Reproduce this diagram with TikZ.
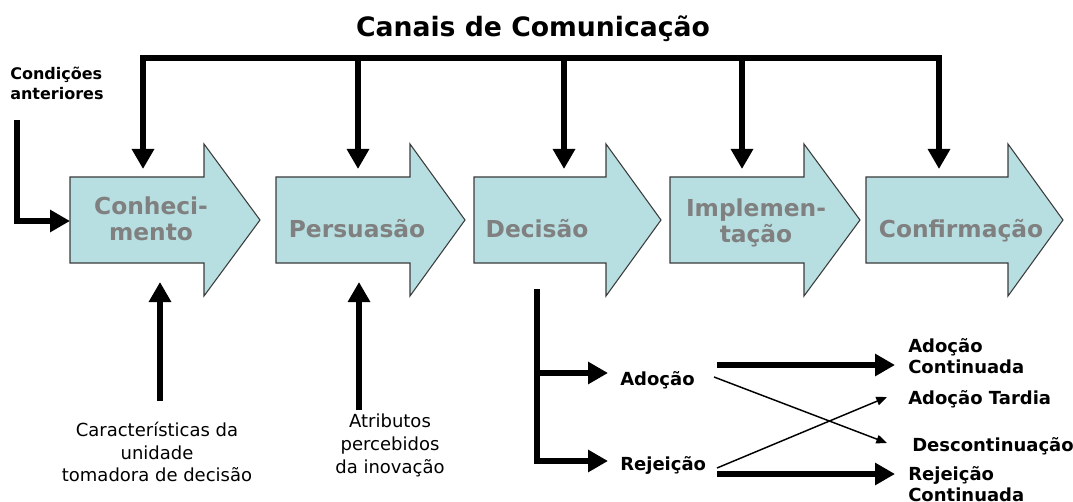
\documentclass[tikz,border=0pt]{standalone}
\usepackage{fontspec}
\setmainfont{DejaVu Sans}
\usetikzlibrary{arrows.meta}
\definecolor{blockfill}{RGB}{183,222,224}
\definecolor{blockline}{RGB}{60,60,60}
\definecolor{blocktext}{RGB}{128,128,128}
\newcommand\myfs[2]{\fontsize{#1}{#2}\selectfont}
\begin{document}
\begin{tikzpicture}[x=0.75pt,y=-0.75pt,
  >={Triangle[length=15pt,width=16pt]},
  blockshape/.style={fill=blockfill,draw=blockline,line width=0.8pt,line join=miter},
  blocklabel/.style={inner sep=0pt,align=center,text=blocktext,font=\myfs{17.5}{19.5}\bfseries},
  bigline/.style={line width=5pt,line join=miter},
  thinarrow/.style={line width=1.1pt,-{Triangle[length=8pt,width=6.5pt]}},
  lbl/.style={inner sep=0pt,align=left,font=\myfs{13.5}{15.75}\bfseries},
  condlbl/.style={inner sep=0pt,align=left,font=\myfs{12}{15}\bfseries},
  sidelbl/.style={inner sep=0pt,align=center,font=\myfs{13.5}{17}},
]
\useasboundingbox[fill=white] (0,0) rectangle (1073,502);

% title
\node[inner sep=0pt,anchor=base,font=\myfs{20}{24}\bfseries] (title) at (533,37) {Canais de Comunicação};

% block arrows
\foreach \l/\h/\t/\n in {70/204/260/a1, 276/410/465/a2, 474/606/661/a3, 670/804/860/a4, 866/1008/1063/a5}{
  \draw[blockshape] (\l,177) -- (\h,177) -- (\h,144) -- (\t,220) -- (\h,296) -- (\h,263) -- (\l,263) -- cycle;
}
\node[blocklabel] (conh) at (151,219) {Conheci-\\mento};
\node[blocklabel,anchor=base] (pers) at (357,238) {Persuasão};
\node[blocklabel,anchor=base] (deci) at (537,238) {Decisão};
\node[blocklabel] (impl) at (756,223) {Implemen-\\tação};
\node[blocklabel,anchor=base] (conf) at (961,238) {Confirmação};

% communication channels
\coordinate (bar) at (0,58);
\coordinate (d1) at (143,169);
\coordinate (d2) at (358,169);
\coordinate (d3) at (564,169);
\coordinate (d4) at (742,169);
\coordinate (d5) at (939,169);
\draw[bigline,<->] (d1) -- (d1 |- bar) -- (d5 |- bar) -- (d5);
\foreach \d in {d2,d3,d4}{
  \draw[bigline,->] (\d |- bar) -- (\d);
}

% previous conditions
\node[condlbl,anchor=west] (cond) at (10,83) {Condições\\anteriores};
\coordinate (c0) at (17,120);
\coordinate (a1w) at (70,221);
\draw[bigline,->] (c0) |- (a1w);

% bottom inputs
\node[sidelbl,font=\myfs{13.5}{16.9}] (carac) at (157,452) {Características da\\unidade\\tomadora de decisão};
\node[sidelbl,font=\myfs{13.5}{17.25}] (atrib) at (390,445) {Atributos\\percebidos\\da inovação};
\coordinate (u1s) at (160,401);
\coordinate (u1e) at (160,282);
\coordinate (u2s) at (359,410);
\coordinate (u2e) at (359,282);
\draw[bigline,->] (u1s) -- (u1e);
\draw[bigline,->] (u2s) -- (u2e);

% decision branches
\node[lbl,anchor=base west] (adoc) at (620,385) {Adoção};
\node[lbl,anchor=base west] (rejc) at (620,470) {Rejeição};
\coordinate (b0) at (537,289);
\coordinate (br1) at (608,373);
\coordinate (br2) at (608,461);
\draw[bigline,->] (b0) |- (br2);
\draw[bigline,->] (b0 |- br1) -- (br1);

% outcomes
\node[lbl,anchor=west] (adcont) at (908,356) {Adoção\\Continuada};
\node[lbl,anchor=base west] (adtard) at (908,404) {Adoção Tardia};
\node[lbl,anchor=base west] (desc) at (912,451) {Descontinuação};
\node[lbl,anchor=west] (rejcont) at (908,484) {Rejeição\\Continuada};

\coordinate (t1s) at (717,365);
\coordinate (t1e) at (895,365);
\coordinate (t2s) at (717,474);
\coordinate (t2e) at (895,474);
\draw[bigline,->] (t1s) -- (t1e);
\draw[bigline,->] (t2s) -- (t2e);

\coordinate (x1s) at (714,377);
\coordinate (x1e) at (887,443);
\coordinate (x2s) at (717,468);
\coordinate (x2e) at (887,397);
\draw[thinarrow] (x1s) -- (x1e);
\draw[thinarrow] (x2s) -- (x2e);
\end{tikzpicture}
\end{document}
